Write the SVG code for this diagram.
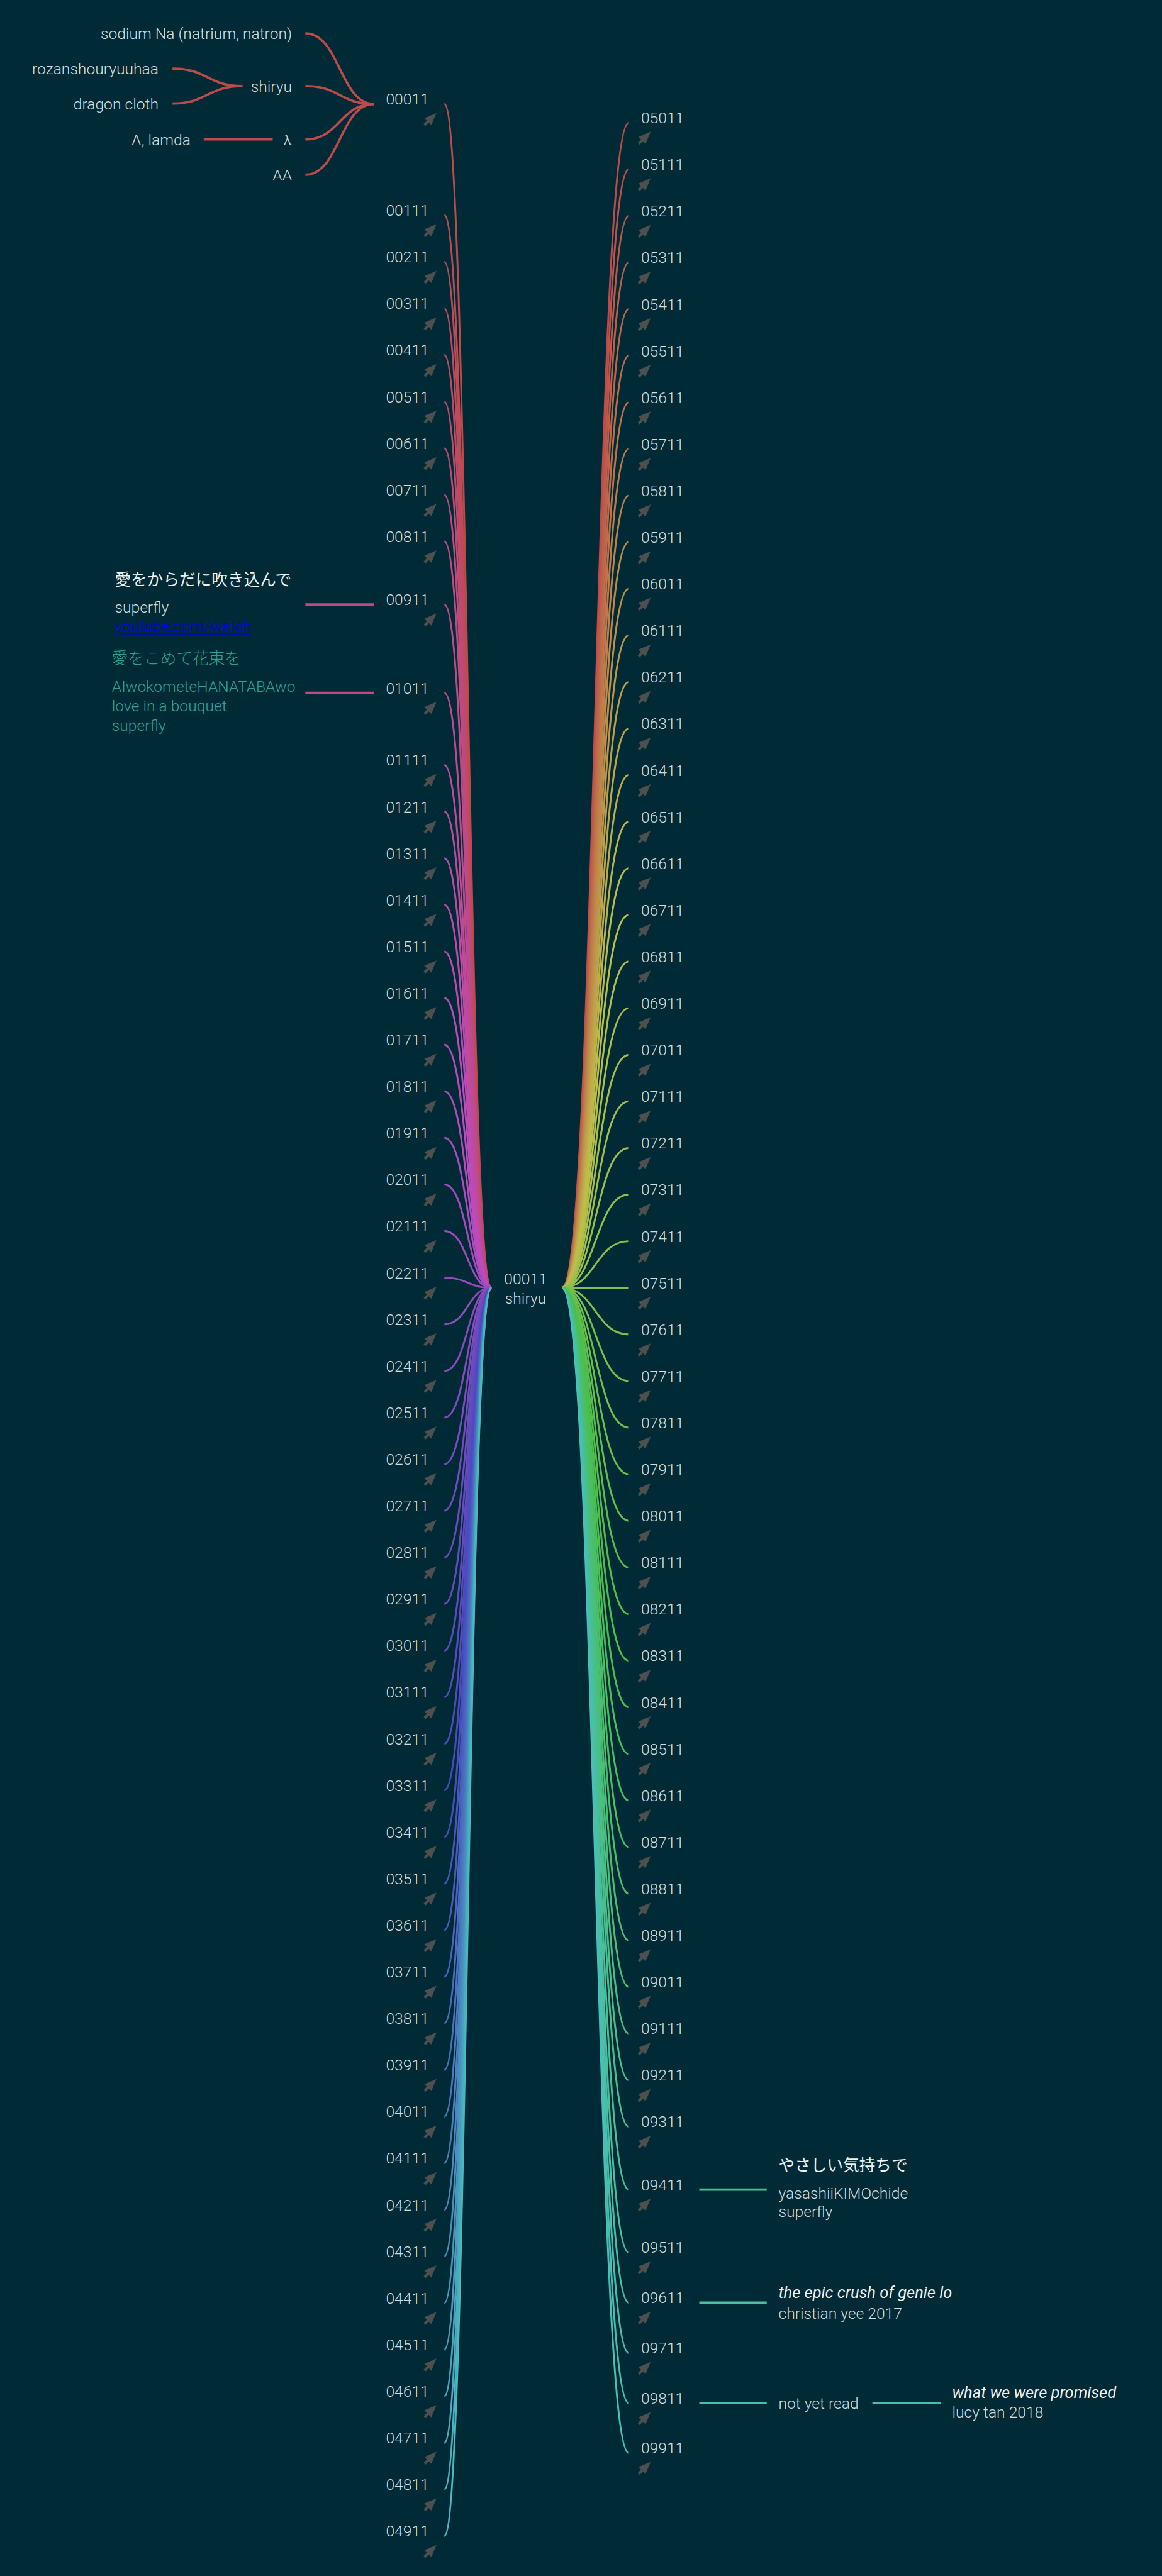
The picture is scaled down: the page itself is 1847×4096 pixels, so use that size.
<svg xmlns="http://www.w3.org/2000/svg" xmlns:xlink="http://www.w3.org/1999/xlink" width="1847" height="4096" viewBox="0 0 1847 4096">
<style>
text{font-family:Roboto,"Noto Sans CJK JP",sans-serif;font-size:26.6px;font-weight:300;fill:#d6dcdc}
.e{text-anchor:end}
.m{text-anchor:middle}
.w{fill:#f0f0f0;font-weight:400}
.j{font-size:27.7px}
.cy{fill:#2aa198}
.lk{fill:#0000ee;text-decoration:underline}
.it{font-style:italic;fill:#f0f0f0;font-weight:400;font-size:27.5px}
.c1{fill:none;stroke-width:3.2}
.c2{fill:none;stroke-width:4}
</style>
<defs>
<path id="arr" d="M0,-2.3H8V-8.5L29,0L8,8.5V2.3H0Z" transform="rotate(-45)" fill="#4f4f4f"/>
</defs>
<rect width="1847" height="4096" fill="#002b36"/>
<g transform="scale(0.92628)">
<g id="links">
<path class="c1" stroke="hsl(360,48%,52%)" d="M843.3,2210.7C803,2210.7 803,178.5 762.5,178.5"/>
<path class="c1" stroke="hsl(356.4,48%,52%)" d="M843.3,2210.7C803,2210.7 803,369.5 762.5,369.5"/>
<path class="c1" stroke="hsl(352.8,48%,52%)" d="M843.3,2210.7C803,2210.7 803,449.5 762.5,449.5"/>
<path class="c1" stroke="hsl(349.2,48%,52%)" d="M843.3,2210.7C803,2210.7 803,529.5 762.5,529.5"/>
<path class="c1" stroke="hsl(345.6,48%,52%)" d="M843.3,2210.7C803,2210.7 803,609.5 762.5,609.5"/>
<path class="c1" stroke="hsl(342,48%,52%)" d="M843.3,2210.7C803,2210.7 803,689.5 762.5,689.5"/>
<path class="c1" stroke="hsl(338.4,48%,52%)" d="M843.3,2210.7C803,2210.7 803,769.5 762.5,769.5"/>
<path class="c1" stroke="hsl(334.8,48%,52%)" d="M843.3,2210.7C803,2210.7 803,849.5 762.5,849.5"/>
<path class="c1" stroke="hsl(331.2,48%,52%)" d="M843.3,2210.7C803,2210.7 803,929.5 762.5,929.5"/>
<path class="c1" stroke="hsl(327.6,48%,52%)" d="M843.3,2210.7C803,2210.7 803,1037.7 762.5,1037.7"/>
<path class="c1" stroke="hsl(324,48%,52%)" d="M843.3,2210.7C803,2210.7 803,1189.3 762.5,1189.3"/>
<path class="c1" stroke="hsl(320.4,48%,52%)" d="M843.3,2210.7C803,2210.7 803,1313.3 762.5,1313.3"/>
<path class="c1" stroke="hsl(316.8,48%,52%)" d="M843.3,2210.7C803,2210.7 803,1393.3 762.5,1393.3"/>
<path class="c1" stroke="hsl(313.2,48%,52%)" d="M843.3,2210.7C803,2210.7 803,1473.3 762.5,1473.3"/>
<path class="c1" stroke="hsl(309.6,48%,52%)" d="M843.3,2210.7C803,2210.7 803,1553.3 762.5,1553.3"/>
<path class="c1" stroke="hsl(306,48%,52%)" d="M843.3,2210.7C803,2210.7 803,1633.3 762.5,1633.3"/>
<path class="c1" stroke="hsl(302.4,48%,52%)" d="M843.3,2210.7C803,2210.7 803,1713.3 762.5,1713.3"/>
<path class="c1" stroke="hsl(298.8,48%,52%)" d="M843.3,2210.7C803,2210.7 803,1793.3 762.5,1793.3"/>
<path class="c1" stroke="hsl(295.2,48%,52%)" d="M843.3,2210.7C803,2210.7 803,1873.3 762.5,1873.3"/>
<path class="c1" stroke="hsl(291.6,48%,52%)" d="M843.3,2210.7C803,2210.7 803,1953.3 762.5,1953.3"/>
<path class="c1" stroke="hsl(288,48%,52%)" d="M843.3,2210.7C803,2210.7 803,2033.3 762.5,2033.3"/>
<path class="c1" stroke="hsl(284.4,48%,52%)" d="M843.3,2210.7C803,2210.7 803,2113.3 762.5,2113.3"/>
<path class="c1" stroke="hsl(280.8,48%,52%)" d="M843.3,2210.7C803,2210.7 803,2193.3 762.5,2193.3"/>
<path class="c1" stroke="hsl(277.2,48%,52%)" d="M843.3,2210.7C803,2210.7 803,2273.3 762.5,2273.3"/>
<path class="c1" stroke="hsl(273.6,48%,52%)" d="M843.3,2210.7C803,2210.7 803,2353.3 762.5,2353.3"/>
<path class="c1" stroke="hsl(270,48%,52%)" d="M843.3,2210.7C803,2210.7 803,2433.3 762.5,2433.3"/>
<path class="c1" stroke="hsl(266.4,48%,52%)" d="M843.3,2210.7C803,2210.7 803,2513.3 762.5,2513.3"/>
<path class="c1" stroke="hsl(262.8,48%,52%)" d="M843.3,2210.7C803,2210.7 803,2593.3 762.5,2593.3"/>
<path class="c1" stroke="hsl(259.2,48%,52%)" d="M843.3,2210.7C803,2210.7 803,2673.3 762.5,2673.3"/>
<path class="c1" stroke="hsl(255.6,48%,52%)" d="M843.3,2210.7C803,2210.7 803,2753.3 762.5,2753.3"/>
<path class="c1" stroke="hsl(252,48%,52%)" d="M843.3,2210.7C803,2210.7 803,2833.3 762.5,2833.3"/>
<path class="c1" stroke="hsl(248.4,48%,52%)" d="M843.3,2210.7C803,2210.7 803,2913.3 762.5,2913.3"/>
<path class="c1" stroke="hsl(244.8,48%,52%)" d="M843.3,2210.7C803,2210.7 803,2993.3 762.5,2993.3"/>
<path class="c1" stroke="hsl(241.2,48%,52%)" d="M843.3,2210.7C803,2210.7 803,3073.3 762.5,3073.3"/>
<path class="c1" stroke="hsl(237.6,48%,52%)" d="M843.3,2210.7C803,2210.7 803,3153.3 762.5,3153.3"/>
<path class="c1" stroke="hsl(234,48%,52%)" d="M843.3,2210.7C803,2210.7 803,3233.3 762.5,3233.3"/>
<path class="c1" stroke="hsl(230.4,48%,52%)" d="M843.3,2210.7C803,2210.7 803,3313.3 762.5,3313.3"/>
<path class="c1" stroke="hsl(226.8,48%,52%)" d="M843.3,2210.7C803,2210.7 803,3393.3 762.5,3393.3"/>
<path class="c1" stroke="hsl(223.2,48%,52%)" d="M843.3,2210.7C803,2210.7 803,3473.3 762.5,3473.3"/>
<path class="c1" stroke="hsl(219.6,48%,52%)" d="M843.3,2210.7C803,2210.7 803,3553.3 762.5,3553.3"/>
<path class="c1" stroke="hsl(216,48%,52%)" d="M843.3,2210.7C803,2210.7 803,3633.3 762.5,3633.3"/>
<path class="c1" stroke="hsl(212.4,48%,52%)" d="M843.3,2210.7C803,2210.7 803,3713.3 762.5,3713.3"/>
<path class="c1" stroke="hsl(208.8,48%,52%)" d="M843.3,2210.7C803,2210.7 803,3793.3 762.5,3793.3"/>
<path class="c1" stroke="hsl(205.2,48%,52%)" d="M843.3,2210.7C803,2210.7 803,3873.3 762.5,3873.3"/>
<path class="c1" stroke="hsl(201.6,48%,52%)" d="M843.3,2210.7C803,2210.7 803,3953.3 762.5,3953.3"/>
<path class="c1" stroke="hsl(198,48%,52%)" d="M843.3,2210.7C803,2210.7 803,4033.3 762.5,4033.3"/>
<path class="c1" stroke="hsl(194.4,48%,52%)" d="M843.3,2210.7C803,2210.7 803,4113.3 762.5,4113.3"/>
<path class="c1" stroke="hsl(190.8,48%,52%)" d="M843.3,2210.7C803,2210.7 803,4193.3 762.5,4193.3"/>
<path class="c1" stroke="hsl(187.2,48%,52%)" d="M843.3,2210.7C803,2210.7 803,4273.3 762.5,4273.3"/>
<path class="c1" stroke="hsl(183.6,48%,52%)" d="M843.3,2210.7C803,2210.7 803,4353.3 762.5,4353.3"/>
<path class="c1" stroke="hsl(0,48%,52%)" d="M964.3,2210.7C1021.7,2210.7 1021.7,210.7 1079,210.7"/>
<path class="c1" stroke="hsl(3.6,48%,52%)" d="M964.3,2210.7C1021.7,2210.7 1021.7,290.7 1079,290.7"/>
<path class="c1" stroke="hsl(7.2,48%,52%)" d="M964.3,2210.7C1021.7,2210.7 1021.7,370.7 1079,370.7"/>
<path class="c1" stroke="hsl(10.8,48%,52%)" d="M964.3,2210.7C1021.7,2210.7 1021.7,450.7 1079,450.7"/>
<path class="c1" stroke="hsl(14.4,48%,52%)" d="M964.3,2210.7C1021.7,2210.7 1021.7,530.7 1079,530.7"/>
<path class="c1" stroke="hsl(18,48%,52%)" d="M964.3,2210.7C1021.7,2210.7 1021.7,610.7 1079,610.7"/>
<path class="c1" stroke="hsl(21.6,48%,52%)" d="M964.3,2210.7C1021.7,2210.7 1021.7,690.7 1079,690.7"/>
<path class="c1" stroke="hsl(25.2,48%,52%)" d="M964.3,2210.7C1021.7,2210.7 1021.7,770.7 1079,770.7"/>
<path class="c1" stroke="hsl(28.8,48%,52%)" d="M964.3,2210.7C1021.7,2210.7 1021.7,850.7 1079,850.7"/>
<path class="c1" stroke="hsl(32.4,48%,52%)" d="M964.3,2210.7C1021.7,2210.7 1021.7,930.7 1079,930.7"/>
<path class="c1" stroke="hsl(36,48%,52%)" d="M964.3,2210.7C1021.7,2210.7 1021.7,1010.7 1079,1010.7"/>
<path class="c1" stroke="hsl(39.6,48%,52%)" d="M964.3,2210.7C1021.7,2210.7 1021.7,1090.7 1079,1090.7"/>
<path class="c1" stroke="hsl(43.2,48%,52%)" d="M964.3,2210.7C1021.7,2210.7 1021.7,1170.7 1079,1170.7"/>
<path class="c1" stroke="hsl(46.8,48%,52%)" d="M964.3,2210.7C1021.7,2210.7 1021.7,1250.7 1079,1250.7"/>
<path class="c1" stroke="hsl(50.4,48%,52%)" d="M964.3,2210.7C1021.7,2210.7 1021.7,1330.7 1079,1330.7"/>
<path class="c1" stroke="hsl(54,48%,52%)" d="M964.3,2210.7C1021.7,2210.7 1021.7,1410.7 1079,1410.7"/>
<path class="c1" stroke="hsl(57.6,48%,52%)" d="M964.3,2210.7C1021.7,2210.7 1021.7,1490.7 1079,1490.7"/>
<path class="c1" stroke="hsl(61.2,48%,52%)" d="M964.3,2210.7C1021.7,2210.7 1021.7,1570.7 1079,1570.7"/>
<path class="c1" stroke="hsl(64.8,48%,52%)" d="M964.3,2210.7C1021.7,2210.7 1021.7,1650.7 1079,1650.7"/>
<path class="c1" stroke="hsl(68.4,48%,52%)" d="M964.3,2210.7C1021.7,2210.7 1021.7,1730.7 1079,1730.7"/>
<path class="c1" stroke="hsl(72,48%,52%)" d="M964.3,2210.7C1021.7,2210.7 1021.7,1810.7 1079,1810.7"/>
<path class="c1" stroke="hsl(75.6,48%,52%)" d="M964.3,2210.7C1021.7,2210.7 1021.7,1890.7 1079,1890.7"/>
<path class="c1" stroke="hsl(79.2,48%,52%)" d="M964.3,2210.7C1021.7,2210.7 1021.7,1970.7 1079,1970.7"/>
<path class="c1" stroke="hsl(82.8,48%,52%)" d="M964.3,2210.7C1021.7,2210.7 1021.7,2050.7 1079,2050.7"/>
<path class="c1" stroke="hsl(86.4,48%,52%)" d="M964.3,2210.7C1021.7,2210.7 1021.7,2130.7 1079,2130.7"/>
<path class="c1" stroke="hsl(90,48%,52%)" d="M964.3,2210.7C1021.7,2210.7 1021.7,2210.7 1079,2210.7"/>
<path class="c1" stroke="hsl(93.6,48%,52%)" d="M964.3,2210.7C1021.7,2210.7 1021.7,2290.7 1079,2290.7"/>
<path class="c1" stroke="hsl(97.2,48%,52%)" d="M964.3,2210.7C1021.7,2210.7 1021.7,2370.7 1079,2370.7"/>
<path class="c1" stroke="hsl(100.8,48%,52%)" d="M964.3,2210.7C1021.7,2210.7 1021.7,2450.7 1079,2450.7"/>
<path class="c1" stroke="hsl(104.4,48%,52%)" d="M964.3,2210.7C1021.7,2210.7 1021.7,2530.7 1079,2530.7"/>
<path class="c1" stroke="hsl(108,48%,52%)" d="M964.3,2210.7C1021.7,2210.7 1021.7,2610.7 1079,2610.7"/>
<path class="c1" stroke="hsl(111.6,48%,52%)" d="M964.3,2210.7C1021.7,2210.7 1021.7,2690.7 1079,2690.7"/>
<path class="c1" stroke="hsl(115.2,48%,52%)" d="M964.3,2210.7C1021.7,2210.7 1021.7,2770.7 1079,2770.7"/>
<path class="c1" stroke="hsl(118.8,48%,52%)" d="M964.3,2210.7C1021.7,2210.7 1021.7,2850.7 1079,2850.7"/>
<path class="c1" stroke="hsl(122.4,48%,52%)" d="M964.3,2210.7C1021.7,2210.7 1021.7,2930.7 1079,2930.7"/>
<path class="c1" stroke="hsl(126,48%,52%)" d="M964.3,2210.7C1021.7,2210.7 1021.7,3010.7 1079,3010.7"/>
<path class="c1" stroke="hsl(129.6,48%,52%)" d="M964.3,2210.7C1021.7,2210.7 1021.7,3090.7 1079,3090.7"/>
<path class="c1" stroke="hsl(133.2,48%,52%)" d="M964.3,2210.7C1021.7,2210.7 1021.7,3170.7 1079,3170.7"/>
<path class="c1" stroke="hsl(136.8,48%,52%)" d="M964.3,2210.7C1021.7,2210.7 1021.7,3250.7 1079,3250.7"/>
<path class="c1" stroke="hsl(140.4,48%,52%)" d="M964.3,2210.7C1021.7,2210.7 1021.7,3330.7 1079,3330.7"/>
<path class="c1" stroke="hsl(144,48%,52%)" d="M964.3,2210.7C1021.7,2210.7 1021.7,3410.7 1079,3410.7"/>
<path class="c1" stroke="hsl(147.6,48%,52%)" d="M964.3,2210.7C1021.7,2210.7 1021.7,3490.7 1079,3490.7"/>
<path class="c1" stroke="hsl(151.2,48%,52%)" d="M964.3,2210.7C1021.7,2210.7 1021.7,3570.7 1079,3570.7"/>
<path class="c1" stroke="hsl(154.8,48%,52%)" d="M964.3,2210.7C1021.7,2210.7 1021.7,3650.7 1079,3650.7"/>
<path class="c1" stroke="hsl(158.4,48%,52%)" d="M964.3,2210.7C1021.7,2210.7 1021.7,3758.8 1079,3758.8"/>
<path class="c1" stroke="hsl(162,48%,52%)" d="M964.3,2210.7C1021.7,2210.7 1021.7,3866.5 1079,3866.5"/>
<path class="c1" stroke="hsl(165.6,48%,52%)" d="M964.3,2210.7C1021.7,2210.7 1021.7,3952.8 1079,3952.8"/>
<path class="c1" stroke="hsl(169.2,48%,52%)" d="M964.3,2210.7C1021.7,2210.7 1021.7,4039.2 1079,4039.2"/>
<path class="c1" stroke="hsl(172.8,48%,52%)" d="M964.3,2210.7C1021.7,2210.7 1021.7,4125.3 1079,4125.3"/>
<path class="c1" stroke="hsl(176.4,48%,52%)" d="M964.3,2210.7C1021.7,2210.7 1021.7,4210.7 1079,4210.7"/>
<path class="c2" stroke="hsl(0,48%,52%)" d="M641.8,178.5C583,178.5 583,57.3 524,57.3"/>
<path class="c2" stroke="hsl(0,48%,52%)" d="M641.8,178.5C583,178.5 583,147.7 524,147.7"/>
<path class="c2" stroke="hsl(0,48%,52%)" d="M641.8,178.5C583,178.5 583,239.3 524,239.3"/>
<path class="c2" stroke="hsl(0,48%,52%)" d="M641.8,178.5C583,178.5 583,300 524,300"/>
<path class="c2" stroke="hsl(0,48%,52%)" d="M416,147.7C356,147.7 356,117.7 296,117.7"/>
<path class="c2" stroke="hsl(0,48%,52%)" d="M416,147.7C356,147.7 356,177.7 296,177.7"/>
<path class="c2" stroke="hsl(0,48%,52%)" d="M468,239.3H349.6"/>
<path class="c2" stroke="hsl(327.6,48%,52%)" d="M642,1037.7H524"/>
<path class="c2" stroke="hsl(324,48%,52%)" d="M642,1189.3H524"/>
<path class="c2" stroke="hsl(158.4,48%,52%)" d="M1200,3758.8H1315.7"/>
<path class="c2" stroke="hsl(165.6,48%,52%)" d="M1200,3952.8H1315.7"/>
<path class="c2" stroke="hsl(172.8,48%,52%)" d="M1200,4125.3H1315.7"/>
<path class="c2" stroke="hsl(172.8,48%,52%)" d="M1497,4125.3H1614"/>
</g>
<g id="root"><text class="m" x="902" y="2205">00011</text><text class="m" x="902" y="2238">shiryu</text></g>
<g id="n00011"><text class="e" x="736" y="179.5">00011</text><use href="#arr" x="728.5" y="214.5"/></g>
<g id="n00111"><text class="e" x="736" y="370.5">00111</text><use href="#arr" x="728.5" y="405.5"/></g>
<g id="n00211"><text class="e" x="736" y="450.5">00211</text><use href="#arr" x="728.5" y="485.5"/></g>
<g id="n00311"><text class="e" x="736" y="530.5">00311</text><use href="#arr" x="728.5" y="565.5"/></g>
<g id="n00411"><text class="e" x="736" y="610.5">00411</text><use href="#arr" x="728.5" y="645.5"/></g>
<g id="n00511"><text class="e" x="736" y="690.5">00511</text><use href="#arr" x="728.5" y="725.5"/></g>
<g id="n00611"><text class="e" x="736" y="770.5">00611</text><use href="#arr" x="728.5" y="805.5"/></g>
<g id="n00711"><text class="e" x="736" y="850.5">00711</text><use href="#arr" x="728.5" y="885.5"/></g>
<g id="n00811"><text class="e" x="736" y="930.5">00811</text><use href="#arr" x="728.5" y="965.5"/></g>
<g id="n00911"><text class="e" x="736" y="1038.7">00911</text><use href="#arr" x="728.5" y="1073.7"/></g>
<g id="n01011"><text class="e" x="736" y="1190.3">01011</text><use href="#arr" x="728.5" y="1225.3"/></g>
<g id="n01111"><text class="e" x="736" y="1314.3">01111</text><use href="#arr" x="728.5" y="1349.3"/></g>
<g id="n01211"><text class="e" x="736" y="1394.3">01211</text><use href="#arr" x="728.5" y="1429.3"/></g>
<g id="n01311"><text class="e" x="736" y="1474.3">01311</text><use href="#arr" x="728.5" y="1509.3"/></g>
<g id="n01411"><text class="e" x="736" y="1554.3">01411</text><use href="#arr" x="728.5" y="1589.3"/></g>
<g id="n01511"><text class="e" x="736" y="1634.3">01511</text><use href="#arr" x="728.5" y="1669.3"/></g>
<g id="n01611"><text class="e" x="736" y="1714.3">01611</text><use href="#arr" x="728.5" y="1749.3"/></g>
<g id="n01711"><text class="e" x="736" y="1794.3">01711</text><use href="#arr" x="728.5" y="1829.3"/></g>
<g id="n01811"><text class="e" x="736" y="1874.3">01811</text><use href="#arr" x="728.5" y="1909.3"/></g>
<g id="n01911"><text class="e" x="736" y="1954.3">01911</text><use href="#arr" x="728.5" y="1989.3"/></g>
<g id="n02011"><text class="e" x="736" y="2034.3">02011</text><use href="#arr" x="728.5" y="2069.3"/></g>
<g id="n02111"><text class="e" x="736" y="2114.3">02111</text><use href="#arr" x="728.5" y="2149.3"/></g>
<g id="n02211"><text class="e" x="736" y="2194.3">02211</text><use href="#arr" x="728.5" y="2229.3"/></g>
<g id="n02311"><text class="e" x="736" y="2274.3">02311</text><use href="#arr" x="728.5" y="2309.3"/></g>
<g id="n02411"><text class="e" x="736" y="2354.3">02411</text><use href="#arr" x="728.5" y="2389.3"/></g>
<g id="n02511"><text class="e" x="736" y="2434.3">02511</text><use href="#arr" x="728.5" y="2469.3"/></g>
<g id="n02611"><text class="e" x="736" y="2514.3">02611</text><use href="#arr" x="728.5" y="2549.3"/></g>
<g id="n02711"><text class="e" x="736" y="2594.3">02711</text><use href="#arr" x="728.5" y="2629.3"/></g>
<g id="n02811"><text class="e" x="736" y="2674.3">02811</text><use href="#arr" x="728.5" y="2709.3"/></g>
<g id="n02911"><text class="e" x="736" y="2754.3">02911</text><use href="#arr" x="728.5" y="2789.3"/></g>
<g id="n03011"><text class="e" x="736" y="2834.3">03011</text><use href="#arr" x="728.5" y="2869.3"/></g>
<g id="n03111"><text class="e" x="736" y="2914.3">03111</text><use href="#arr" x="728.5" y="2949.3"/></g>
<g id="n03211"><text class="e" x="736" y="2994.3">03211</text><use href="#arr" x="728.5" y="3029.3"/></g>
<g id="n03311"><text class="e" x="736" y="3074.3">03311</text><use href="#arr" x="728.5" y="3109.3"/></g>
<g id="n03411"><text class="e" x="736" y="3154.3">03411</text><use href="#arr" x="728.5" y="3189.3"/></g>
<g id="n03511"><text class="e" x="736" y="3234.3">03511</text><use href="#arr" x="728.5" y="3269.3"/></g>
<g id="n03611"><text class="e" x="736" y="3314.3">03611</text><use href="#arr" x="728.5" y="3349.3"/></g>
<g id="n03711"><text class="e" x="736" y="3394.3">03711</text><use href="#arr" x="728.5" y="3429.3"/></g>
<g id="n03811"><text class="e" x="736" y="3474.3">03811</text><use href="#arr" x="728.5" y="3509.3"/></g>
<g id="n03911"><text class="e" x="736" y="3554.3">03911</text><use href="#arr" x="728.5" y="3589.3"/></g>
<g id="n04011"><text class="e" x="736" y="3634.3">04011</text><use href="#arr" x="728.5" y="3669.3"/></g>
<g id="n04111"><text class="e" x="736" y="3714.3">04111</text><use href="#arr" x="728.5" y="3749.3"/></g>
<g id="n04211"><text class="e" x="736" y="3794.3">04211</text><use href="#arr" x="728.5" y="3829.3"/></g>
<g id="n04311"><text class="e" x="736" y="3874.3">04311</text><use href="#arr" x="728.5" y="3909.3"/></g>
<g id="n04411"><text class="e" x="736" y="3954.3">04411</text><use href="#arr" x="728.5" y="3989.3"/></g>
<g id="n04511"><text class="e" x="736" y="4034.3">04511</text><use href="#arr" x="728.5" y="4069.3"/></g>
<g id="n04611"><text class="e" x="736" y="4114.3">04611</text><use href="#arr" x="728.5" y="4149.3"/></g>
<g id="n04711"><text class="e" x="736" y="4194.3">04711</text><use href="#arr" x="728.5" y="4229.3"/></g>
<g id="n04811"><text class="e" x="736" y="4274.3">04811</text><use href="#arr" x="728.5" y="4309.3"/></g>
<g id="n04911"><text class="e" x="736" y="4354.3">04911</text><use href="#arr" x="728.5" y="4389.3"/></g>
<g id="n05011"><text x="1100" y="211.7">05011</text><use href="#arr" x="1096" y="246.7"/></g>
<g id="n05111"><text x="1100" y="291.7">05111</text><use href="#arr" x="1096" y="326.7"/></g>
<g id="n05211"><text x="1100" y="371.7">05211</text><use href="#arr" x="1096" y="406.7"/></g>
<g id="n05311"><text x="1100" y="451.7">05311</text><use href="#arr" x="1096" y="486.7"/></g>
<g id="n05411"><text x="1100" y="531.7">05411</text><use href="#arr" x="1096" y="566.7"/></g>
<g id="n05511"><text x="1100" y="611.7">05511</text><use href="#arr" x="1096" y="646.7"/></g>
<g id="n05611"><text x="1100" y="691.7">05611</text><use href="#arr" x="1096" y="726.7"/></g>
<g id="n05711"><text x="1100" y="771.7">05711</text><use href="#arr" x="1096" y="806.7"/></g>
<g id="n05811"><text x="1100" y="851.7">05811</text><use href="#arr" x="1096" y="886.7"/></g>
<g id="n05911"><text x="1100" y="931.7">05911</text><use href="#arr" x="1096" y="966.7"/></g>
<g id="n06011"><text x="1100" y="1011.7">06011</text><use href="#arr" x="1096" y="1046.7"/></g>
<g id="n06111"><text x="1100" y="1091.7">06111</text><use href="#arr" x="1096" y="1126.7"/></g>
<g id="n06211"><text x="1100" y="1171.7">06211</text><use href="#arr" x="1096" y="1206.7"/></g>
<g id="n06311"><text x="1100" y="1251.7">06311</text><use href="#arr" x="1096" y="1286.7"/></g>
<g id="n06411"><text x="1100" y="1331.7">06411</text><use href="#arr" x="1096" y="1366.7"/></g>
<g id="n06511"><text x="1100" y="1411.7">06511</text><use href="#arr" x="1096" y="1446.7"/></g>
<g id="n06611"><text x="1100" y="1491.7">06611</text><use href="#arr" x="1096" y="1526.7"/></g>
<g id="n06711"><text x="1100" y="1571.7">06711</text><use href="#arr" x="1096" y="1606.7"/></g>
<g id="n06811"><text x="1100" y="1651.7">06811</text><use href="#arr" x="1096" y="1686.7"/></g>
<g id="n06911"><text x="1100" y="1731.7">06911</text><use href="#arr" x="1096" y="1766.7"/></g>
<g id="n07011"><text x="1100" y="1811.7">07011</text><use href="#arr" x="1096" y="1846.7"/></g>
<g id="n07111"><text x="1100" y="1891.7">07111</text><use href="#arr" x="1096" y="1926.7"/></g>
<g id="n07211"><text x="1100" y="1971.7">07211</text><use href="#arr" x="1096" y="2006.7"/></g>
<g id="n07311"><text x="1100" y="2051.7">07311</text><use href="#arr" x="1096" y="2086.7"/></g>
<g id="n07411"><text x="1100" y="2131.7">07411</text><use href="#arr" x="1096" y="2166.7"/></g>
<g id="n07511"><text x="1100" y="2211.7">07511</text><use href="#arr" x="1096" y="2246.7"/></g>
<g id="n07611"><text x="1100" y="2291.7">07611</text><use href="#arr" x="1096" y="2326.7"/></g>
<g id="n07711"><text x="1100" y="2371.7">07711</text><use href="#arr" x="1096" y="2406.7"/></g>
<g id="n07811"><text x="1100" y="2451.7">07811</text><use href="#arr" x="1096" y="2486.7"/></g>
<g id="n07911"><text x="1100" y="2531.7">07911</text><use href="#arr" x="1096" y="2566.7"/></g>
<g id="n08011"><text x="1100" y="2611.7">08011</text><use href="#arr" x="1096" y="2646.7"/></g>
<g id="n08111"><text x="1100" y="2691.7">08111</text><use href="#arr" x="1096" y="2726.7"/></g>
<g id="n08211"><text x="1100" y="2771.7">08211</text><use href="#arr" x="1096" y="2806.7"/></g>
<g id="n08311"><text x="1100" y="2851.7">08311</text><use href="#arr" x="1096" y="2886.7"/></g>
<g id="n08411"><text x="1100" y="2931.7">08411</text><use href="#arr" x="1096" y="2966.7"/></g>
<g id="n08511"><text x="1100" y="3011.7">08511</text><use href="#arr" x="1096" y="3046.7"/></g>
<g id="n08611"><text x="1100" y="3091.7">08611</text><use href="#arr" x="1096" y="3126.7"/></g>
<g id="n08711"><text x="1100" y="3171.7">08711</text><use href="#arr" x="1096" y="3206.7"/></g>
<g id="n08811"><text x="1100" y="3251.7">08811</text><use href="#arr" x="1096" y="3286.7"/></g>
<g id="n08911"><text x="1100" y="3331.7">08911</text><use href="#arr" x="1096" y="3366.7"/></g>
<g id="n09011"><text x="1100" y="3411.7">09011</text><use href="#arr" x="1096" y="3446.7"/></g>
<g id="n09111"><text x="1100" y="3491.7">09111</text><use href="#arr" x="1096" y="3526.7"/></g>
<g id="n09211"><text x="1100" y="3571.7">09211</text><use href="#arr" x="1096" y="3606.7"/></g>
<g id="n09311"><text x="1100" y="3651.7">09311</text><use href="#arr" x="1096" y="3686.7"/></g>
<g id="n09411"><text x="1100" y="3759.8">09411</text><use href="#arr" x="1096" y="3794.8"/></g>
<g id="n09511"><text x="1100" y="3867.5">09511</text><use href="#arr" x="1096" y="3902.5"/></g>
<g id="n09611"><text x="1100" y="3953.8">09611</text><use href="#arr" x="1096" y="3988.8"/></g>
<g id="n09711"><text x="1100" y="4040.2">09711</text><use href="#arr" x="1096" y="4075.2"/></g>
<g id="n09811"><text x="1100" y="4126.3">09811</text><use href="#arr" x="1096" y="4161.3"/></g>
<g id="n09911"><text x="1100" y="4211.7">09911</text><use href="#arr" x="1096" y="4246.7"/></g>
<g id="n-sodium"><text class="e" x="501" y="67.3">sodium Na (natrium, natron)</text></g>
<g id="n-shiryu"><text class="e" x="501" y="157.7">shiryu</text></g>
<g id="n-lambda"><text class="e" x="501" y="249.3">λ</text></g>
<g id="n-AA"><text class="e" x="501" y="310">AA</text></g>
<g id="n-rozan"><text class="e" x="272" y="127.7">rozanshouryuuhaa</text></g>
<g id="n-dragon"><text class="e" x="272" y="187.7">dragon cloth</text></g>
<g id="n-lamda"><text class="e" x="327" y="249.3">Λ, lamda</text></g>
<g id="n-ai1"><text class="w j" x="197" y="1005">愛をからだに吹き込んで</text><text x="197" y="1051.5">superfly</text><text class="lk" x="197" y="1084">youtube.com/watch</text></g>
<g id="n-ai2"><text class="cy j" x="192" y="1140">愛をこめて花束を</text><text class="cy" x="192" y="1188">AIwokometeHANATABAwo</text><text class="cy" x="192" y="1221.5">love in a bouquet</text><text class="cy" x="192" y="1254.5">superfly</text></g>
<g id="n-yasashii"><text class="w j" x="1336" y="3727">やさしい気持ちで</text><text x="1336" y="3774">yasashiiKIMOchide</text><text x="1336" y="3805.5">superfly</text></g>
<g id="n-epic"><text class="it" x="1336" y="3945">the epic crush of genie lo</text><text x="1336" y="3980">christian yee 2017</text></g>
<g id="n-notyet"><text x="1336" y="4135">not yet read</text></g>
<g id="n-promised"><text class="it" x="1634" y="4117">what we were promised</text><text x="1634" y="4150">lucy tan 2018</text></g>
</g>
</svg>
